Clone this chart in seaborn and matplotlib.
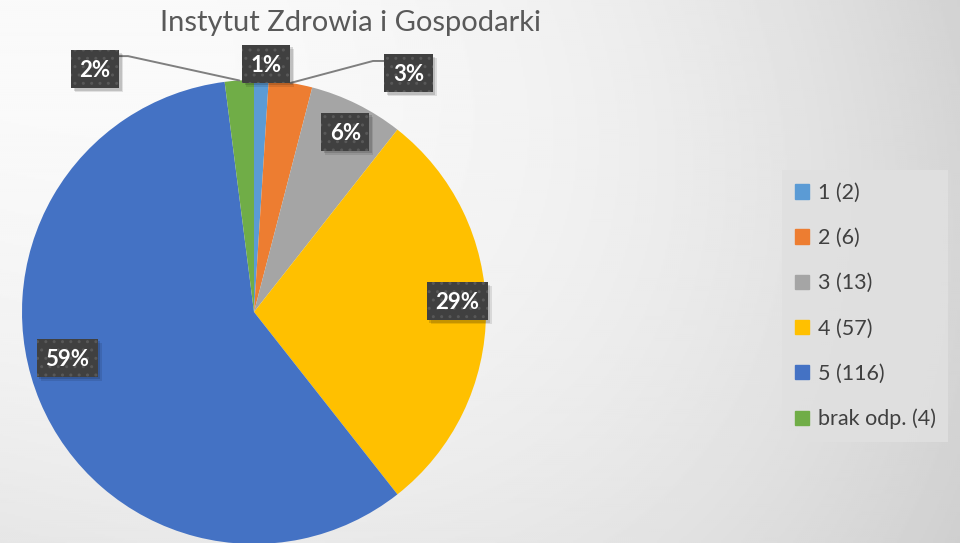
import numpy as np
import matplotlib.pyplot as plt
import matplotlib.patches as mpatches
import seaborn as sns

# data
categories = ['1 (2)', '2 (6)', '3 (13)', '4 (57)', '5 (116)', 'brak odp. (4)']
counts = [2, 6, 13, 57, 116, 4]
title = 'Instytut Zdrowia i Gospodarki'

colors = sns.color_palette(['#5B9BD5', '#ED7D31', '#A5A5A5', '#FFC000', '#4472C4', '#70AD47'])

# label box centres, in pie-radius units
label_pos = [(0.052, 1.069), (0.666, 1.030), (0.394, 0.776),
             (0.875, 0.047), (-0.806, -0.198), (-0.685, 1.047)]
# leader lines: (elbow point, box edge x)
leaders = {1: ((0.513, 1.082), 0.565), 5: ((-0.543, 1.103), -0.586)}


def excel_percents(vals):
    # largest remainder rounding, the way Excel keeps the sum at 100
    raw = np.array(vals) / sum(vals) * 100
    out = np.floor(raw).astype(int)
    rest = 100 - out.sum()
    order = np.argsort(-(raw - out))
    out[order[:rest]] += 1
    return out


sns.set_theme(style='white')
plt.rcParams['font.family'] = ['Lato', 'DejaVu Sans']

fig = plt.figure(figsize=(9.6, 5.43), dpi=100)

# soft gray background gradient
bg = fig.add_axes([0, 0, 1, 1])
gx, gy = np.meshgrid(np.linspace(0, 1, 480), np.linspace(0, 1, 272))
shade = 250 - 40 * gx ** 2.5 - 20 * gy ** 2 + 17 * gx * gy
bg.imshow(shade / 255.0, cmap='gray', vmin=0, vmax=1, aspect='auto',
          extent=[0, 1, 0, 1], origin='upper')
bg.axis('off')

W, H = 960, 543
cx, cy, r = 254, 312, 232
ax = fig.add_axes([(cx - r) / W, (H - cy - r) / H, 2 * r / W, 2 * r / H])

wedges, _ = ax.pie(counts, colors=colors, startangle=90, counterclock=False,
                   radius=1, wedgeprops=dict(linewidth=0))
ax.set_xlim(-1, 1)
ax.set_ylim(-1, 1)
ax.axis('off')
for w in wedges:
    w.set_clip_on(False)

pcts = excel_percents(counts)
labels = []
for i, w in enumerate(wedges):
    mid = np.deg2rad((w.theta1 + w.theta2) / 2)
    lx, ly = label_pos[i]
    if i in leaders:
        (ex, ey), bx = leaders[i]
        ax.plot([np.cos(mid), ex, bx], [np.sin(mid), ey, ey], color='#7f7f7f',
                lw=1.4, zorder=3, clip_on=False)
    t = ax.annotate(f'{pcts[i]}%', (lx, ly), xytext=(0, -5.8), textcoords='offset points',
                    ha='center', va='baseline', fontsize=16, fontweight='bold',
                    color='white', zorder=6, annotation_clip=False)
    labels.append(t)

# dark label boxes with soft shadow, sized from the rendered text
fig.canvas.draw()
for (lx, ly), t in zip(label_pos, labels):
    tw = t.get_window_extent().width
    px, py = ax.transData.transform((lx, ly))
    bw, bh = tw + 17, 38
    for off, a in [(4, 0.10), (2.5, 0.14)]:
        ax.add_patch(mpatches.Rectangle((px - bw / 2 + off, py - bh / 2 - off), bw, bh,
                                        transform=None, fc='black', ec='none', alpha=a,
                                        zorder=4, clip_on=False))
    ax.add_patch(mpatches.Rectangle((px - bw / 2, py - bh / 2), bw, bh, transform=None,
                                    fc='#404040', ec='#585858', lw=0, hatch='..',
                                    zorder=5, clip_on=False))

fig.text(350 / W, 1 - 23 / H, title, ha='center', va='center', fontsize=21,
         color='#595959')

handles = [mpatches.Patch(color=c, label=l) for c, l in zip(colors, categories)]
leg = fig.legend(handles=handles, loc='upper left', bbox_to_anchor=(782 / W, 1 - 170 / H),
                 frameon=True, facecolor='#e0e0e0', edgecolor='none', fancybox=False,
                 fontsize=15.5, labelspacing=1.17, handlelength=0.65, handleheight=0.65,
                 handletextpad=0.4, borderpad=0.6, borderaxespad=0)
for t in leg.get_texts():
    t.set_color('#404040')
leg.get_frame().set_alpha(0.9)

fig.savefig('out.png', dpi=100)
